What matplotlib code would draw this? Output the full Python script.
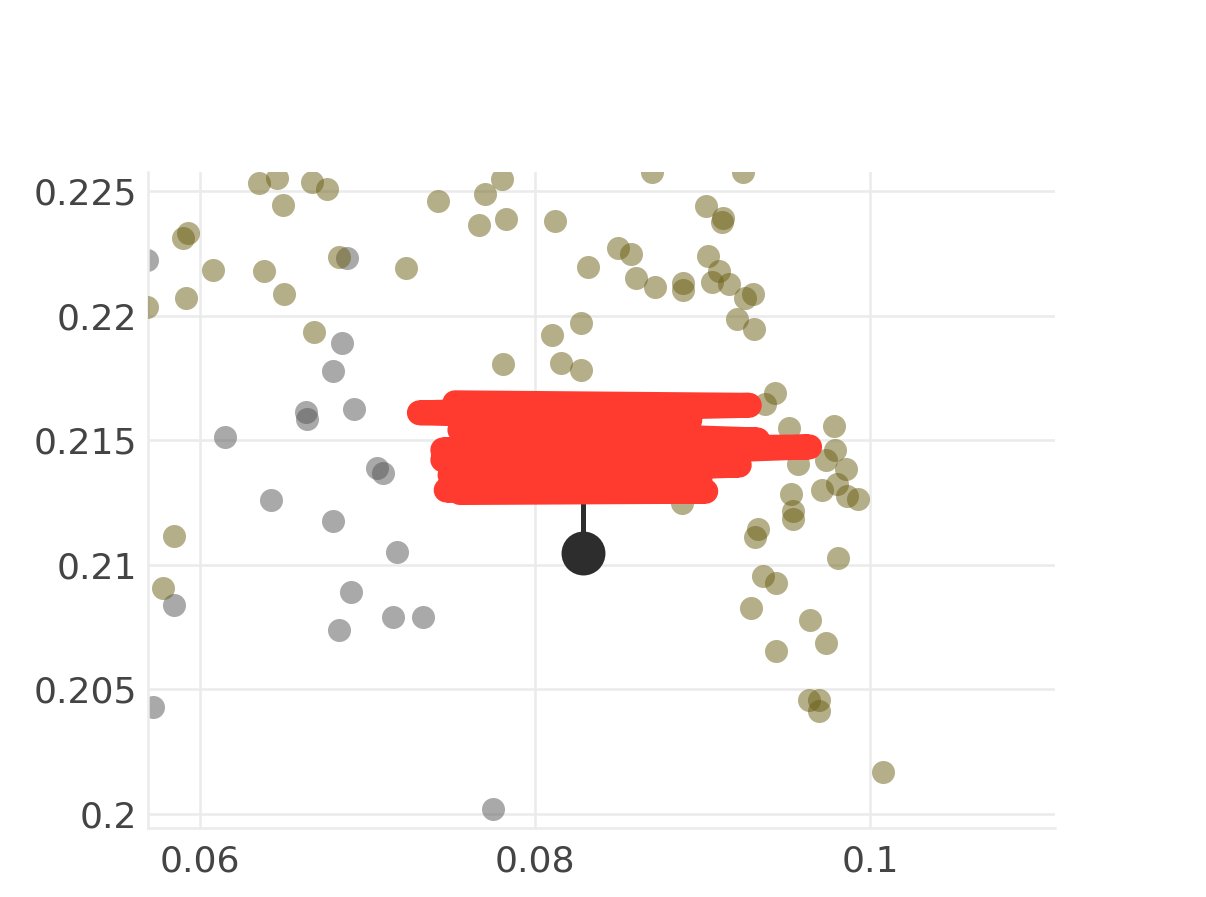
import matplotlib
matplotlib.use("Agg")
import matplotlib.pyplot as plt

# ---- data ----
gray_x = [0.05684, 0.06878, 0.06848, 0.06794, 0.06919, 0.06633, 0.06639, 0.06149,
          0.07057, 0.07093, 0.06424, 0.06794, 0.07176, 0.05845, 0.06901, 0.06830,
          0.07152, 0.07331, 0.05719, 0.07749]
gray_y = [0.22223, 0.22231, 0.21890, 0.21778, 0.21625, 0.21613, 0.21585, 0.21513,
          0.21388, 0.21368, 0.21260, 0.21176, 0.21051, 0.20839, 0.20891, 0.20738,
          0.20790, 0.20790, 0.20429, 0.20020]

olive_x = [0.06352, 0.06460, 0.06669, 0.06758, 0.06496, 0.07421, 0.07701, 0.07803,
           0.07666, 0.07827, 0.05928, 0.05899, 0.06078, 0.06382, 0.06830, 0.07230,
           0.05916, 0.06501, 0.05684, 0.06681, 0.07809, 0.05845, 0.05779, 0.08119,
           0.08495, 0.08573, 0.08316, 0.08603, 0.08716, 0.08883, 0.08883, 0.09021,
           0.09122, 0.09116, 0.09033, 0.09098, 0.09057, 0.09158, 0.09254, 0.09301,
           0.09206, 0.09307, 0.08275, 0.08101, 0.08155, 0.08275, 0.08698, 0.09242,
           0.08507, 0.09433, 0.09373, 0.09516, 0.09785, 0.09791, 0.09737, 0.09857,
           0.09570, 0.09803, 0.09713, 0.09863, 0.09928, 0.09528, 0.09540, 0.09540,
           0.09331, 0.09313, 0.08878, 0.09809, 0.09361, 0.09439, 0.09289, 0.09642,
           0.09737, 0.09439, 0.09636, 0.09695, 0.09695, 0.10078]
olive_y = [0.22532, 0.22552, 0.22536, 0.22508, 0.22444, 0.22460, 0.22488, 0.22548,
           0.22364, 0.22388, 0.22331, 0.22311, 0.22183, 0.22179, 0.22235, 0.22191,
           0.22071, 0.22087, 0.22035, 0.21934, 0.21806, 0.21116, 0.20907, 0.22380,
           0.22271, 0.22247, 0.22195, 0.22151, 0.22115, 0.22131, 0.22103, 0.22440,
           0.22392, 0.22376, 0.22239, 0.22179, 0.22135, 0.22127, 0.22071, 0.22087,
           0.21986, 0.21946, 0.21970, 0.21922, 0.21810, 0.21782, 0.22576, 0.22576,
           0.22624, 0.21689, 0.21645, 0.21549, 0.21557, 0.21461, 0.21421, 0.21384,
           0.21404, 0.21324, 0.21300, 0.21276, 0.21264, 0.21284, 0.21216, 0.21184,
           0.21144, 0.21112, 0.21248, 0.21027, 0.20955, 0.20927, 0.20827, 0.20778,
           0.20686, 0.20654, 0.20457, 0.20457, 0.20413, 0.20168]

# lollipop-like markers
stem_x = [0.08287, 0.08931]
stem_y0 = [0.21047, 0.21292]
stem_y1 = [0.21660, 0.21641]
head_x = [0.08287]
head_y = [0.21047]

# red scribble overlay (hand-drawn censor)
scribble_x = [0.07522, 0.09280, 0.07310, 0.08925, 0.07552, 0.09330, 0.07450, 0.09640,
              0.07450, 0.09220, 0.07493, 0.08985, 0.07470, 0.09020, 0.07552]
scribble_y = [0.21650, 0.21640, 0.21610, 0.21581, 0.21541, 0.21501, 0.21461, 0.21473,
              0.21421, 0.21400, 0.21360, 0.21340, 0.21300, 0.21295, 0.21290]

x_ticks = [0.06, 0.08, 0.1]
x_labels = ["0.06", "0.08", "0.1"]
y_ticks = [0.2, 0.205, 0.21, 0.215, 0.22, 0.225]
y_labels = ["0.2", "0.205", "0.21", "0.215", "0.22", "0.225"]

# ---- figure ----
W, H, DPI = 1206, 897, 100
fig = plt.figure(figsize=(W / DPI, H / DPI), dpi=DPI)
ax = fig.add_axes([148 / W, 1 - 828 / H, (1055 - 148) / W, (828 - 172) / H])

ax.set_xlim(0.05690, 0.11105)
ax.set_ylim(0.19944, 0.22576)

ax.grid(True, color="#ebebeb", linewidth=1.8, zorder=0)
ax.set_axisbelow(True)
for s in ["top", "right"]:
    ax.spines[s].set_visible(False)
for s in ["left", "bottom"]:
    ax.spines[s].set_color("#ebebeb")
    ax.spines[s].set_linewidth(1.8)

ax.scatter(gray_x, gray_y, s=275, color=(85/255, 85/255, 85/255), alpha=0.5,
           linewidths=0, zorder=2)
ax.scatter(olive_x, olive_y, s=275, color=(107/255, 95/255, 21/255), alpha=0.5,
           linewidths=0, zorder=3)

ax.vlines(stem_x[0], stem_y0[0], stem_y1[0], color="#2d2d2d", linewidth=3.6, zorder=4)
ax.vlines(stem_x[1], stem_y0[1], stem_y1[1], color="#2d2d2d", linewidth=2.0, zorder=4)
ax.scatter(head_x, head_y, s=1000, color="#2d2d2d", linewidths=0, zorder=5)

ax.plot(scribble_x, scribble_y, color="#ff3b30", linewidth=18,
        solid_capstyle="round", solid_joinstyle="round", zorder=6)

ax.set_xticks(x_ticks)
ax.set_xticklabels(x_labels)
ax.set_yticks(y_ticks)
ax.set_yticklabels(y_labels)
ax.tick_params(axis="both", length=0, labelsize=26, labelcolor="#444444")
ax.tick_params(axis="y", pad=8)
ax.tick_params(axis="x", pad=12)

fig.savefig("out.png", dpi=DPI)
